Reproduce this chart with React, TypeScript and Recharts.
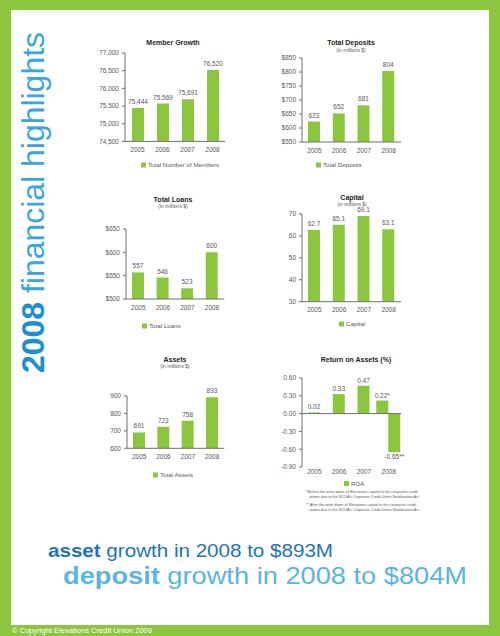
import { BarChart, Bar, XAxis, YAxis, LabelList, ReferenceLine } from "recharts";

const years = ["2005", "2006", "2007", "2008"];
const members = [75444, 75569, 75691, 76520];
const memberTicks = [74500, 75000, 75500, 76000, 76500, 77000];
const deposits = [623, 652, 681, 804];
const depositTicks = [550, 600, 650, 700, 750, 800, 850];
const loans = [557, 546, 523, 600];
const loanTicks = [500, 550, 600, 650];
const capital = [62.7, 65.1, 69.1, 63.1];
const capitalTicks = [30, 40, 50, 60, 70];
const assets = [691, 723, 758, 893];
const assetTicks = [600, 700, 800, 900];
// ROA for 2008 is shown before (*) and after (**) the corporate CU write down
const roaBefore = [0.02, 0.33, 0.47, 0.22];
const roaAfter = [null, null, null, -0.65];
const roaTicks = [-0.9, -0.6, -0.3, 0, 0.3, 0.6];
const roaBeforeMarks = ["", "", "", "*"];
const roaAfterMarks = ["", "", "", "**"];

const GREEN = "#8cc63f";
const GRAY = "#58595b";
const AXIS = "#6d6e71";
const FONT = "'Liberation Sans', Arial, Helvetica, sans-serif";
const YW = 40;
const MT = 14;
const MR = 8;
const XH = 20;

const tickStyle = { fill: GRAY, fontSize: 6.5, fontFamily: FONT };
const comma = (v: number) => v.toLocaleString("en-US");
const dollar = (v: number) => "$" + v;
const plain = (v: number) => String(v);

type PanelProps = {
  box: [number, number, number, number];
  values: number[];
  ticks: number[];
  yFmt: (v: number) => string;
  labelFmt: (v: number) => string;
};

function Panel({ box, values, ticks, yFmt, labelFmt }: PanelProps) {
  const [x0, x1, y0, y1] = box;
  const data = years.map((year, i) => ({ year, value: values[i] }));
  return (
    <div style={{ position: "absolute", left: x0 - YW, top: y0 - MT }}>
      <BarChart
        width={x1 - x0 + YW + MR}
        height={y1 - y0 + MT + XH}
        data={data}
        margin={{ top: MT, right: MR, left: 0, bottom: 0 }}
      >
        <XAxis
          dataKey="year"
          height={XH}
          interval={0}
          tickLine={false}
          tickSize={4}
          tickMargin={2}
          axisLine={{ stroke: AXIS }}
          tick={tickStyle}
        />
        <YAxis
          width={YW}
          type="number"
          domain={[ticks[0], ticks[ticks.length - 1]]}
          ticks={ticks}
          interval={0}
          tickFormatter={yFmt}
          tickSize={3}
          tickMargin={3}
          axisLine={{ stroke: AXIS }}
          tickLine={{ stroke: AXIS }}
          tick={tickStyle}
          allowDataOverflow
        />
        <Bar dataKey="value" fill={GREEN} barSize={12} isAnimationActive={false}>
          <LabelList
            dataKey="value"
            position="top"
            offset={4}
            formatter={(v: any) => labelFmt(Number(v))}
            fill={GRAY}
            fontSize={6.5}
            fontFamily={FONT}
          />
        </Bar>
      </BarChart>
    </div>
  );
}

const roaShape = (p: any) => {
  if (p.height == null || isNaN(p.height) || p.payload == null) return <g />;
  const solo = p.payload.after == null;
  const top = Math.min(p.y, p.y + p.height);
  return (
    <rect
      x={p.x + (solo ? p.width / 2 : 0)}
      y={top}
      width={p.width}
      height={Math.abs(p.height)}
      fill={GREEN}
    />
  );
};

const roaLabel = (vals: (number | null)[], marks: string[], below: boolean) => (p: any) => {
  const v = p.value;
  if (v == null || isNaN(Number(v))) return null;
  const i = vals.indexOf(Number(v));
  if (i < 0) return null;
  const vb = p.viewBox ?? p;
  const solo = !below && roaAfter[i] == null;
  const cx = vb.x + vb.width / 2 + (solo ? vb.width / 2 : 0);
  const top = Math.min(vb.y, vb.y + vb.height);
  const bot = Math.max(vb.y, vb.y + vb.height);
  return (
    <text
      key={"roa-" + below + i}
      x={cx}
      y={below ? bot + 7 : top - 3}
      textAnchor="middle"
      fill={GRAY}
      fontSize={6.5}
      fontFamily={FONT}
    >
      {Number(v).toFixed(2) + marks[i]}
    </text>
  );
};

function RoaPanel() {
  const [x0, x1, y0, y1] = [302, 401, 378.3, 467.3];
  const data = years.map((year, i) => ({ year, before: roaBefore[i], after: roaAfter[i] }));
  return (
    <div style={{ position: "absolute", left: x0 - YW, top: y0 - MT }}>
      <BarChart
        width={x1 - x0 + YW + MR}
        height={y1 - y0 + MT + XH}
        data={data}
        barGap={0}
        margin={{ top: MT, right: MR, left: 0, bottom: 0 }}
      >
        <XAxis
          dataKey="year"
          height={XH}
          interval={0}
          axisLine={false}
          tickLine={false}
          tickSize={0}
          tickMargin={2}
          tick={tickStyle}
        />
        <YAxis
          width={YW}
          type="number"
          domain={[-0.9, 0.6]}
          ticks={roaTicks}
          interval={0}
          tickFormatter={(v: number) => v.toFixed(2)}
          tickSize={3}
          tickMargin={3}
          axisLine={{ stroke: AXIS }}
          tickLine={{ stroke: AXIS }}
          tick={tickStyle}
        />
        <ReferenceLine y={0} stroke={AXIS} />
        <Bar
          dataKey="before"
          fill={GREEN}
          barSize={12}
          shape={roaShape}
          label={roaLabel(roaBefore, roaBeforeMarks, false)}
          isAnimationActive={false}
        />
        <Bar
          dataKey="after"
          fill={GREEN}
          barSize={12}
          shape={roaShape}
          label={roaLabel(roaAfter, roaAfterMarks, true)}
          isAnimationActive={false}
        />
      </BarChart>
    </div>
  );
}

const titles = [
  { x: 173, y: 44.5, text: "Member Growth" },
  { x: 351, y: 45.2, text: "Total Deposits", sub: true },
  { x: 173, y: 201.5, text: "Total Loans", sub: true },
  { x: 352, y: 199.5, text: "Capital", sub: true },
  { x: 175, y: 361.5, text: "Assets", sub: true },
  { x: 356, y: 361.5, text: "Return on Assets (%)" },
];

const legends = [
  { x: 141, y: 165, text: "Total Number of Members" },
  { x: 316, y: 165, text: "Total Deposits" },
  { x: 142, y: 326, text: "Total Loans" },
  { x: 339, y: 324, text: "Capital" },
  { x: 153, y: 475, text: "Total Assets" },
  { x: 344, y: 483.5, text: "ROA" },
];

const footnotes = [
  { x: 306, y: 493.2, w: 112, text: "*Before the write down of Elevations capital in the corporate credit" },
  { x: 309, y: 498.2, w: 110, text: "unions due to the NCUA's Corporate Credit Union Stabilization Act" },
  { x: 306, y: 505.8, w: 110, text: "** After the write down of Elevations capital in the corporate credit" },
  { x: 309, y: 510.8, w: 110, text: "unions due to the NCUA's Corporate Credit Union Stabilization Act" },
];

function Overlay() {
  return (
    <svg
      width={500}
      height={636}
      style={{ position: "absolute", left: 0, top: 0, pointerEvents: "none" }}
      fontFamily={FONT}
    >
      <text
        x={44}
        y={373}
        transform="rotate(-90 44 373)"
        fontSize={32}
        textLength={341}
        lengthAdjust="spacingAndGlyphs"
      >
        <tspan fill="#1b8fd2" fontWeight="bold">2008</tspan>
        <tspan fill="#3aa6de"> financial highlights</tspan>
      </text>

      {titles.map((t) => (
        <g key={t.text}>
          <text x={t.x} y={t.y} textAnchor="middle" fontSize={7} fontWeight="bold" fill="#231f20">
            {t.text}
          </text>
          {t.sub && (
            <text x={t.x} y={t.y + 6.3} textAnchor="middle" fontSize={5} fill={GRAY}>
              (in millions $)
            </text>
          )}
        </g>
      ))}

      {legends.map((l) => (
        <g key={l.text}>
          <rect x={l.x} y={l.y - 2.5} width={5} height={5} fill={GREEN} />
          <text x={l.x + 7} y={l.y + 2.2} fontSize={6.2} fill={GRAY}>
            {l.text}
          </text>
        </g>
      ))}

      {footnotes.map((f, i) => (
        <text key={i} x={f.x} y={f.y} fontSize={4.3} fill={GRAY} textLength={f.w} lengthAdjust="spacingAndGlyphs">
          {f.text}
        </text>
      ))}

      <text x={48} y={557} fontSize={19} fill="#1b75bb" textLength={285} lengthAdjust="spacingAndGlyphs">
        <tspan fontWeight="bold">asset</tspan>
        <tspan> growth in 2008 to $893M</tspan>
      </text>
      <text x={63} y={584} fontSize={24} fill="#5bb5e2" textLength={404} lengthAdjust="spacingAndGlyphs">
        <tspan fontWeight="bold">deposit</tspan>
        <tspan> growth in 2008 to $804M</tspan>
      </text>

      <text x={12} y={633} fontSize={7.5} fill="#ffffff" textLength={140} lengthAdjust="spacingAndGlyphs">
        © Copyright Elevations Credit Union 2009
      </text>
    </svg>
  );
}

export default function App() {
  return (
    <div
      style={{
        position: "absolute",
        left: 0,
        top: 0,
        width: 500,
        height: 636,
        background: GREEN,
        overflow: "hidden",
      }}
    >
      <div style={{ position: "absolute", left: 11, top: 10, width: 478, height: 615, background: "#ffffff" }} />
      <Panel box={[125, 225, 53.3, 141.7]} values={members} ticks={memberTicks} yFmt={comma} labelFmt={comma} />
      <Panel box={[302, 401, 58.3, 142.3]} values={deposits} ticks={depositTicks} yFmt={dollar} labelFmt={plain} />
      <Panel box={[125.7, 224, 229.3, 299.3]} values={loans} ticks={loanTicks} yFmt={dollar} labelFmt={plain} />
      <Panel box={[302, 401, 214, 301.7]} values={capital} ticks={capitalTicks} yFmt={plain} labelFmt={plain} />
      <Panel box={[126.7, 224, 396, 448.3]} values={assets} ticks={assetTicks} yFmt={plain} labelFmt={plain} />
      <RoaPanel />
      <Overlay />
    </div>
  );
}
